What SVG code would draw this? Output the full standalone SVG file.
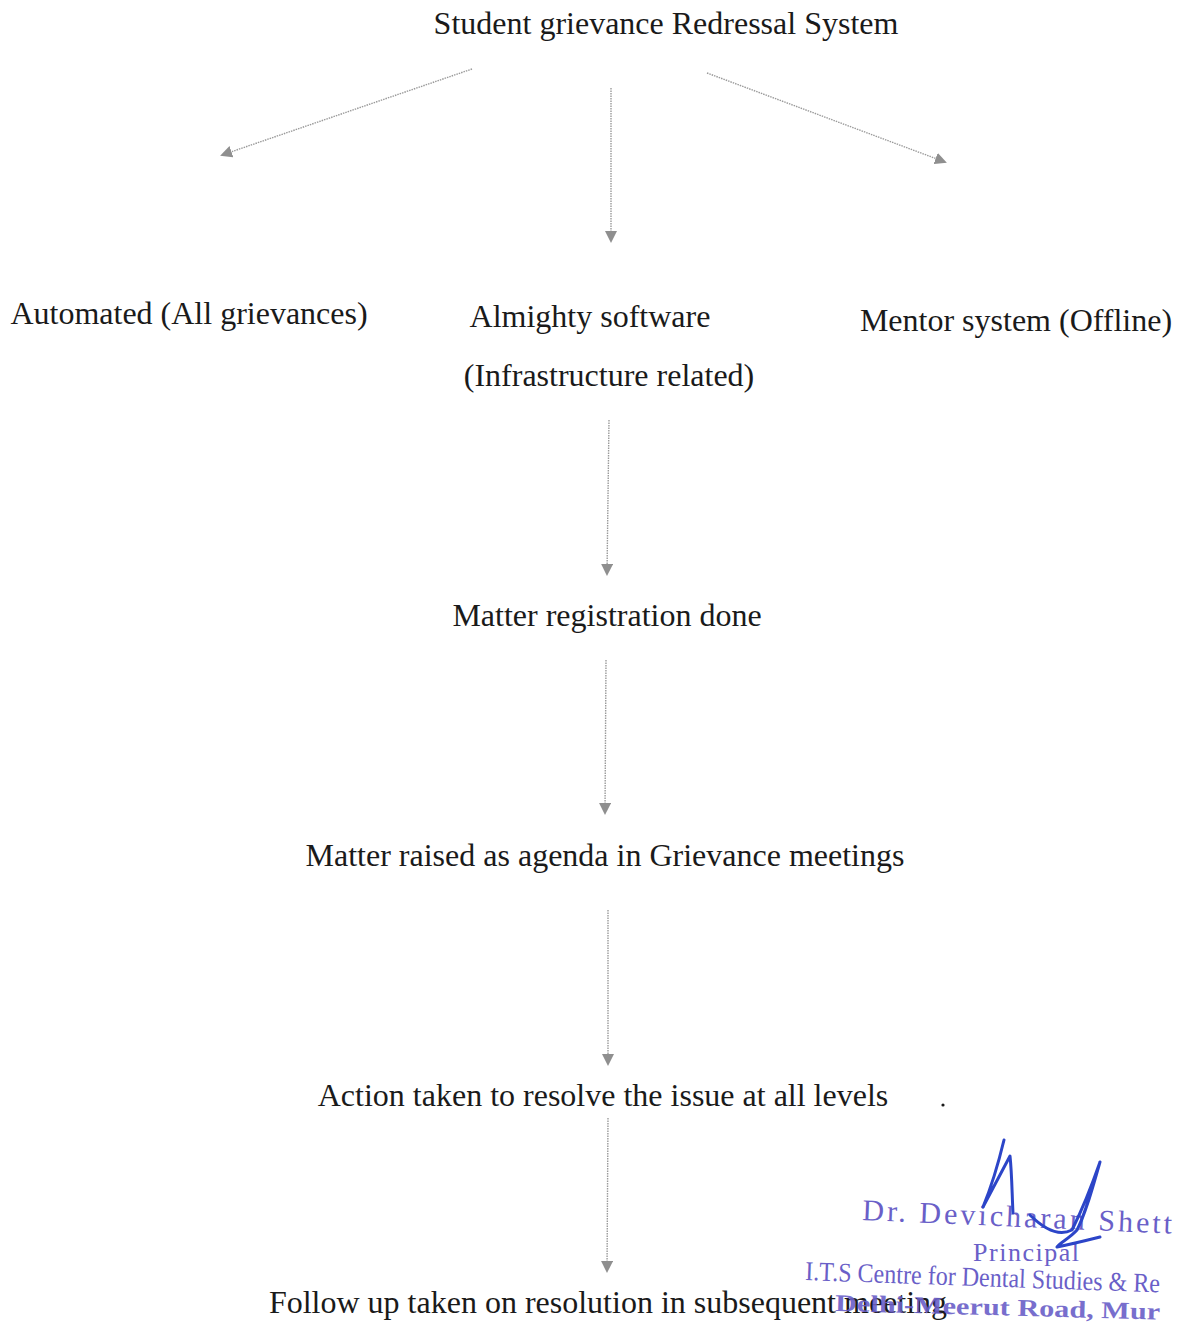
<svg xmlns="http://www.w3.org/2000/svg" width="1180" height="1322" viewBox="0 0 1180 1322">
<defs>
<style>
.t{font-family:"Liberation Serif","Times New Roman",serif;font-size:32px;fill:#1a1a1a;text-anchor:middle}
.c{stroke:#9a9a9a;stroke-width:1.4;stroke-dasharray:1.5 1;fill:none}
.st{fill:#6a5fc8;font-family:"Liberation Serif",serif}
</style>
<marker id="ah" viewBox="0 0 12 12" refX="10" refY="6" markerWidth="12" markerHeight="12" markerUnits="userSpaceOnUse" orient="auto">
<path d="M0,0 L12,6 L0,12 Z" fill="#8f8f8f"/>
</marker>
</defs>
<rect width="1180" height="1322" fill="#fff"/>
<g id="connectors">
<line class="c" x1="472" y1="69" x2="222" y2="155" marker-end="url(#ah)"/>
<line class="c" x1="611" y1="88" x2="611" y2="241" marker-end="url(#ah)"/>
<line class="c" x1="707" y1="73" x2="945" y2="162" marker-end="url(#ah)"/>
<line class="c" x1="609" y1="420" x2="607" y2="574" marker-end="url(#ah)"/>
<line class="c" x1="606" y1="660" x2="605" y2="813" marker-end="url(#ah)"/>
<line class="c" x1="608" y1="910" x2="608" y2="1064" marker-end="url(#ah)"/>
<line class="c" x1="608" y1="1118" x2="607" y2="1271" marker-end="url(#ah)"/>
</g>
<g id="title"><text class="t" x="666" y="34">Student grievance Redressal System</text></g>
<g id="automated"><text class="t" x="189" y="324">Automated (All grievances)</text></g>
<g id="almighty"><text class="t" x="590" y="327">Almighty software</text><text class="t" x="609" y="386">(Infrastructure related)</text></g>
<g id="mentor"><text class="t" x="1016" y="331">Mentor system (Offline)</text></g>
<g id="registration"><text class="t" x="607" y="626">Matter registration done</text></g>
<g id="agenda"><text class="t" x="605" y="866">Matter raised as agenda in Grievance meetings</text></g>
<g id="action"><text class="t" x="603" y="1106">Action taken to resolve the issue at all levels</text><circle cx="943" cy="1105" r="1.6" fill="#1a1a1a"/></g>
<g id="followup"><text class="t" x="608" y="1313">Follow up taken on resolution in subsequent meeting</text></g>
<g id="stamp">
<text class="st" x="862" y="1220" font-size="30" textLength="310" lengthAdjust="spacing" transform="rotate(2.5 862 1220)">Dr. Devicharan Shett</text>
<text class="st" x="973" y="1261" font-size="26" textLength="106" lengthAdjust="spacing">Principal</text>
<text class="st" x="805" y="1280" font-size="27" textLength="355" lengthAdjust="spacingAndGlyphs" transform="rotate(2 805 1280)">I.T.S Centre for Dental Studies &amp; Re</text>
<text class="st" x="835" y="1311" font-size="24" font-weight="bold" textLength="325" lengthAdjust="spacingAndGlyphs" transform="rotate(1.5 835 1311)" opacity="0.9">Delhi-Meerut Road, Mur</text>
<path d="M1004,1140 C998,1165 990,1190 983,1207 L1010,1156 C1012,1175 1012,1195 1013,1213 M1030,1215 C1045,1230 1060,1236 1072,1230 C1082,1210 1092,1185 1100,1162 C1092,1190 1085,1215 1077,1230 C1070,1238 1058,1244 1057,1247 C1072,1244 1088,1240 1100,1237" fill="none" stroke="#2c45c8" stroke-width="3" stroke-linecap="round" stroke-linejoin="round"/>
</g>
</svg>
